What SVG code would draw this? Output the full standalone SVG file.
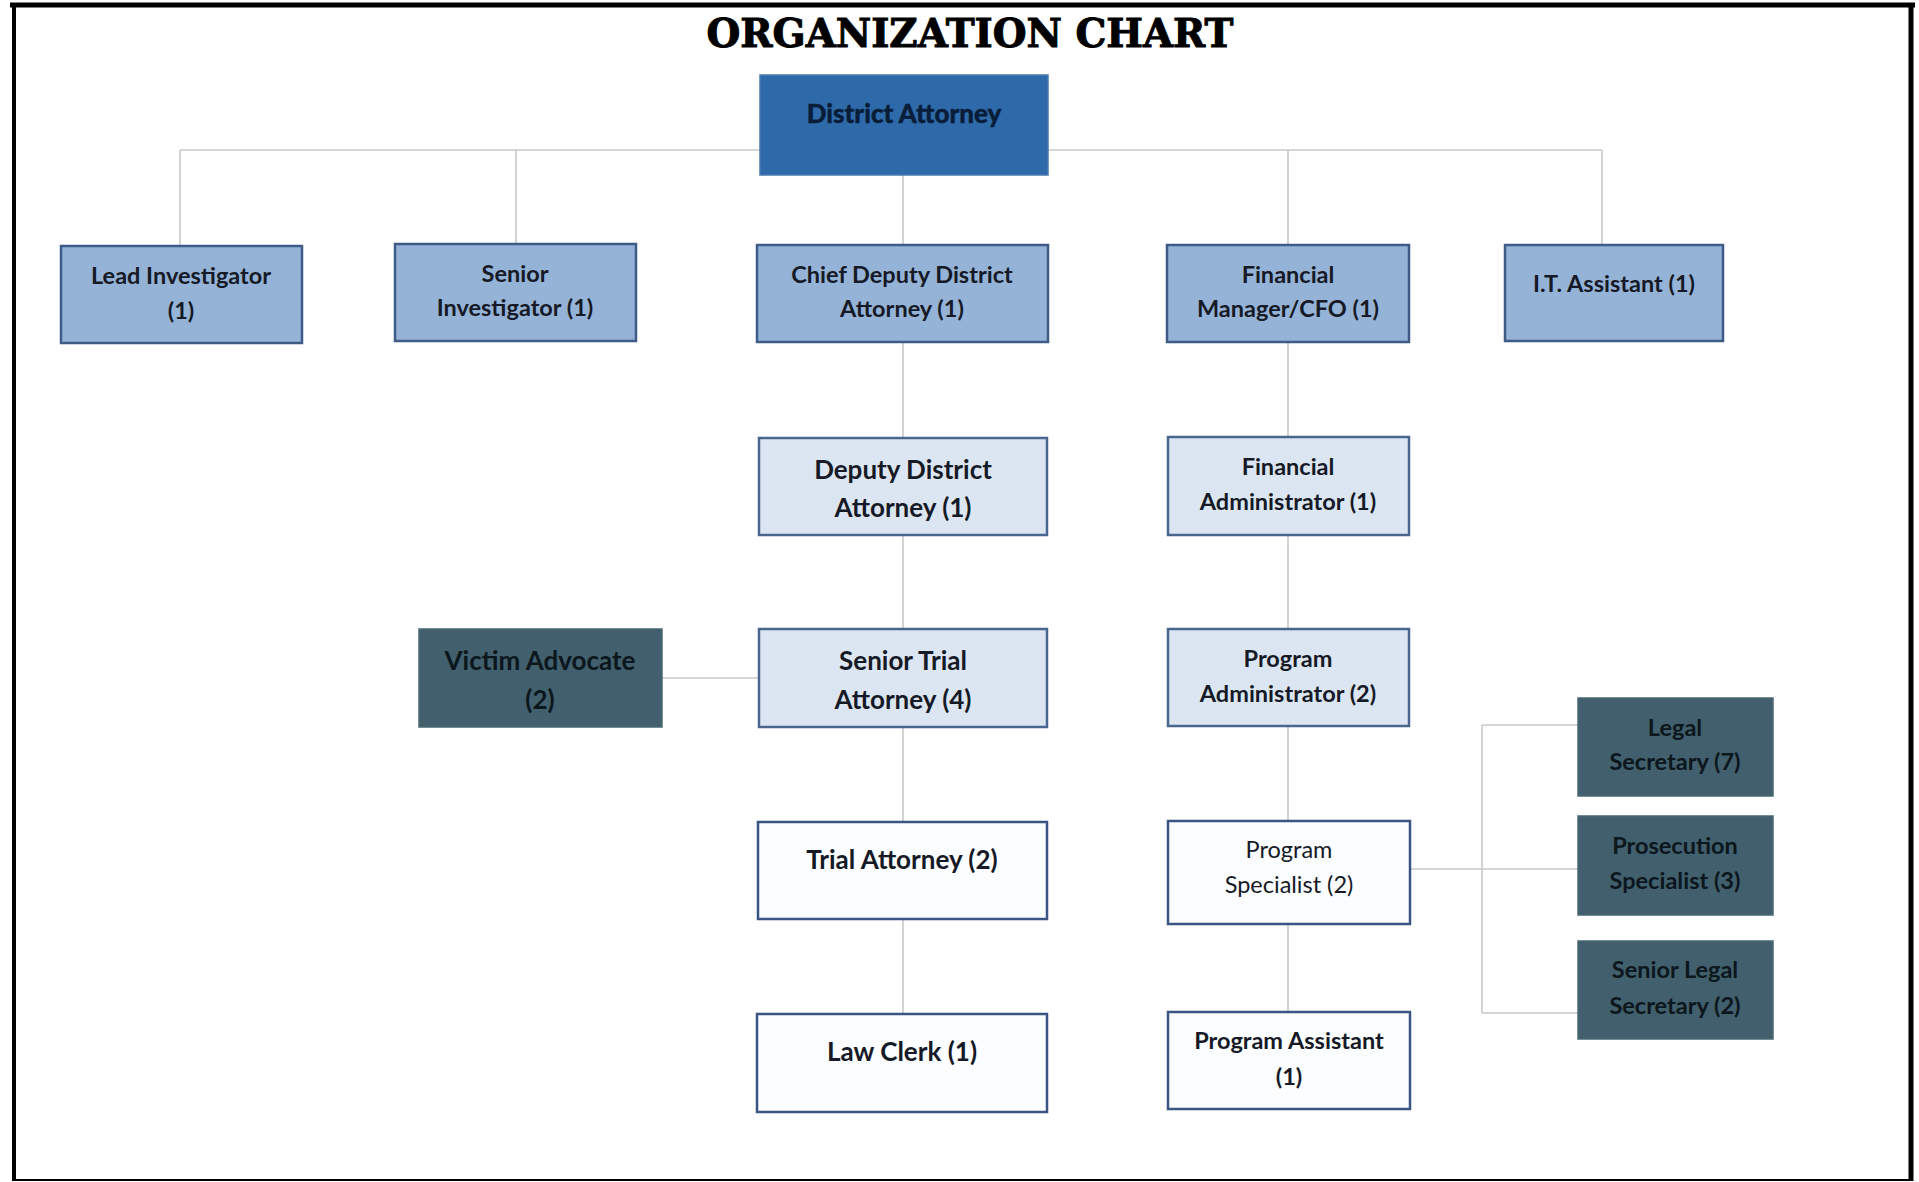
<svg xmlns="http://www.w3.org/2000/svg" width="1919" height="1182" viewBox="0 0 1919 1182">
<style>
.bg{fill:#ffffff}
.frame{stroke:#000;fill:none}
.conn line{stroke:#c8c8c8;stroke-width:1.6;fill:none}
.da rect{fill:#2e6aaa;stroke:#4a78ae;stroke-width:1.5}
.l1 rect{fill:#95b3d7;stroke:#3e5c86;stroke-width:2.5}
.l2 rect{fill:#dce6f2;stroke:#48668e;stroke-width:2.5}
.l3 rect{fill:#fbfdff;stroke:#3a5582;stroke-width:2.5}
.dk rect{fill:#415f6c;stroke:#4a6874;stroke-width:1.5}
text{font-family:Lato,"Liberation Sans",sans-serif;text-anchor:middle;dominant-baseline:central;font-weight:bold;fill:#151a26;font-size:23.5px}
.da text{fill:#091d38;font-size:26px;font-weight:900;stroke:#091d38;stroke-width:0.4}
.big text{font-size:26px}
.reg text{font-weight:normal}
.dk text{fill:#0b161d}
.title{font-family:"DejaVu Serif","Liberation Serif",serif;font-weight:900;font-size:40px;fill:#000;stroke:#000;stroke-width:1;dominant-baseline:alphabetic}
</style>
<rect class="bg" x="0" y="0" width="1919" height="1182"/>
<line class="frame" x1="10" y1="5" x2="1915" y2="5" stroke-width="5"/>
<line class="frame" x1="14" y1="3" x2="14" y2="1181" stroke-width="4"/>
<line class="frame" x1="1911" y1="3" x2="1911" y2="1181" stroke-width="5"/>
<line class="frame" x1="12" y1="1180" x2="1913" y2="1180" stroke-width="2"/>
<text class="title" x="970" y="47" textLength="527" lengthAdjust="spacingAndGlyphs">ORGANIZATION CHART</text>
<g id="connectors" class="conn">
<line x1="180" y1="150" x2="1602" y2="150"/>
<line x1="180" y1="150" x2="180" y2="246"/>
<line x1="516" y1="150" x2="516" y2="244"/>
<line x1="903" y1="170" x2="903" y2="245"/>
<line x1="1288" y1="150" x2="1288" y2="245"/>
<line x1="1602" y1="150" x2="1602" y2="245"/>
<line x1="903" y1="342" x2="903" y2="438"/>
<line x1="903" y1="535" x2="903" y2="629"/>
<line x1="903" y1="727" x2="903" y2="822"/>
<line x1="903" y1="919" x2="903" y2="1013"/>
<line x1="1288" y1="342" x2="1288" y2="437"/>
<line x1="1288" y1="535" x2="1288" y2="629"/>
<line x1="1288" y1="726" x2="1288" y2="821"/>
<line x1="1288" y1="924" x2="1288" y2="1012"/>
<line x1="662" y1="678" x2="759" y2="678"/>
<line x1="1410" y1="869" x2="1578" y2="869"/>
<line x1="1482" y1="725" x2="1482" y2="1013"/>
<line x1="1482" y1="725" x2="1578" y2="725"/>
<line x1="1482" y1="1013" x2="1578" y2="1013"/>
</g>
<g id="district-attorney" class="da"><rect x="760" y="75" width="288" height="100"/><text x="904" y="113">District Attorney</text></g>
<g id="lead-investigator" class="l1"><rect x="61" y="246" width="241" height="97"/><text x="181" y="275">Lead Investigator</text><text x="181" y="310">(1)</text></g>
<g id="senior-investigator" class="l1"><rect x="395" y="244" width="241" height="97"/><text x="515" y="273">Senior</text><text x="515" y="307">Investigator (1)</text></g>
<g id="chief-deputy-da" class="l1"><rect x="757" y="245" width="291" height="97"/><text x="902" y="274">Chief Deputy District</text><text x="902" y="308">Attorney (1)</text></g>
<g id="financial-manager" class="l1"><rect x="1167" y="245" width="242" height="97"/><text x="1288" y="274">Financial</text><text x="1288" y="308">Manager/CFO (1)</text></g>
<g id="it-assistant" class="l1"><rect x="1505" y="245" width="218" height="96"/><text x="1614" y="283">I.T. Assistant (1)</text></g>
<g id="deputy-da" class="l2 big"><rect x="759" y="438" width="288" height="97"/><text x="903" y="469">Deputy District</text><text x="903" y="507">Attorney (1)</text></g>
<g id="financial-administrator" class="l2"><rect x="1168" y="437" width="241" height="98"/><text x="1288" y="466">Financial</text><text x="1288" y="501">Administrator (1)</text></g>
<g id="victim-advocate" class="dk big"><rect x="419" y="629" width="243" height="98"/><text x="540" y="660">Victim Advocate</text><text x="540" y="699">(2)</text></g>
<g id="senior-trial-attorney" class="l2 big"><rect x="759" y="629" width="288" height="98"/><text x="903" y="660">Senior Trial</text><text x="903" y="699">Attorney (4)</text></g>
<g id="program-administrator" class="l2"><rect x="1168" y="629" width="241" height="97"/><text x="1288" y="658">Program</text><text x="1288" y="693">Administrator (2)</text></g>
<g id="trial-attorney" class="l3 big"><rect x="758" y="822" width="289" height="97"/><text x="902" y="859">Trial Attorney (2)</text></g>
<g id="program-specialist" class="l3 reg"><rect x="1168" y="821" width="242" height="103"/><text x="1289" y="849">Program</text><text x="1289" y="884">Specialist (2)</text></g>
<g id="law-clerk" class="l3 big"><rect x="757" y="1014" width="290" height="98"/><text x="902" y="1051">Law Clerk (1)</text></g>
<g id="program-assistant" class="l3"><rect x="1168" y="1012" width="242" height="97"/><text x="1289" y="1040">Program Assistant</text><text x="1289" y="1076">(1)</text></g>
<g id="legal-secretary" class="dk"><rect x="1578" y="698" width="195" height="98"/><text x="1675" y="727">Legal</text><text x="1675" y="761">Secretary (7)</text></g>
<g id="prosecution-specialist" class="dk"><rect x="1578" y="816" width="195" height="99"/><text x="1675" y="845">Prosecution</text><text x="1675" y="880">Specialist (3)</text></g>
<g id="senior-legal-secretary" class="dk"><rect x="1578" y="941" width="195" height="98"/><text x="1675" y="969">Senior Legal</text><text x="1675" y="1005">Secretary (2)</text></g>
</svg>
